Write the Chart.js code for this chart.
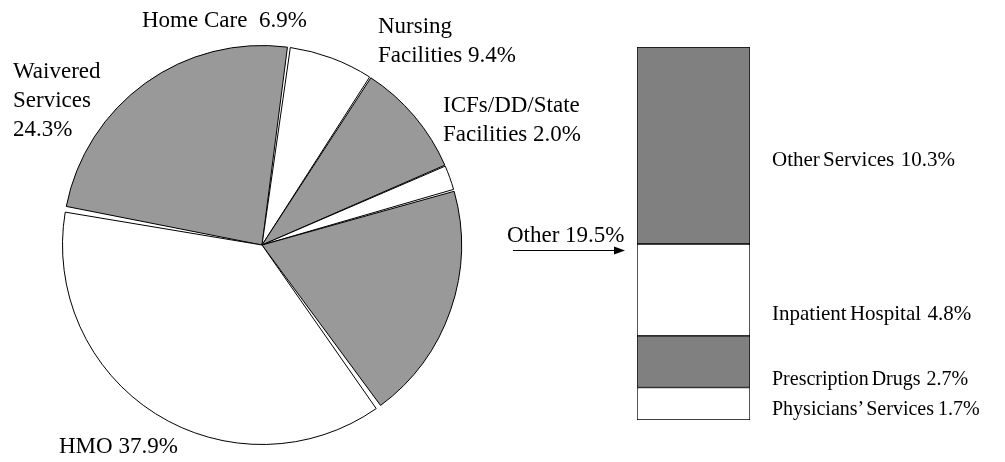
<!DOCTYPE html>
<html>
<head>
<meta charset="utf-8">
<script src="https://cdn.jsdelivr.net/npm/chart.js@4"></script>
<style>
  html, body { margin: 0; padding: 0; background: #fff; }
  #wrap { position: relative; width: 1005px; height: 462px; }
  #pieCanvas { position: absolute; left: 0; top: 0; }
  #barBox { position: absolute; left: 636px; top: 46px; width: 115px; height: 375px; }
</style>
</head>
<body>
<div id="wrap">
  <canvas id="pieCanvas" width="1005" height="462"></canvas>
  <div id="barBox"><canvas id="barCanvas"></canvas></div>
</div>
<script>
// pie data (clockwise, starting from Waivered Services)
const pieLabels = ['Waivered Services', 'Home Care', 'Nursing Facilities', 'ICFs/DD/State Facilities', 'Other', 'HMO'];
const pieValues = [24.3, 6.9, 9.4, 2.0, 19.5, 37.9];
const pieColors = ['#999999', '#ffffff', '#999999', '#ffffff', '#999999', '#ffffff'];

// breakdown of "Other" (bottom to top)
const otherLabels = ["Physicians’ Services", 'Prescription Drugs', 'Inpatient Hospital', 'Other Services'];
const otherValues = [1.7, 2.7, 4.8, 10.3];
const otherColors = ['#ffffff', '#808080', '#ffffff', '#808080'];

const SERIF = '"Liberation Serif", "Times New Roman", serif';

// text labels drawn on top of the pie canvas
const textLabels = [
  { lines: ['Waivered', 'Services', '24.3%'], x: 13, y: 72, size: 23 },
  { lines: ['Home Care  6.9%'], x: 142, y: 21, size: 23 },
  { lines: ['Nursing', 'Facilities 9.4%'], x: 378, y: 27, size: 23 },
  { lines: ['ICFs/DD/State', 'Facilities 2.0%'], x: 443, y: 106, size: 23 },
  { lines: ['HMO 37.9%'], x: 59, y: 447, size: 23 },
  { lines: ['Other 19.5%'], x: 507, y: 236, size: 23 },
  { lines: ['Other Services  10.3%'], x: 772, y: 160, size: 21, ws: -2 },
  { lines: ['Inpatient Hospital  4.8%'], x: 772, y: 314, size: 21, ws: -2 },
  { lines: ['Prescription Drugs  2.7%'], x: 772, y: 380, size: 20, ws: -2 },
  { lines: ['Physicians’ Services  1.7%'], x: 772, y: 410, size: 20, ws: -3 }
];

const labelPlugin = {
  id: 'labels',
  afterDraw(chart) {
    const ctx = chart.ctx;
    ctx.save();
    ctx.fillStyle = '#000';
    ctx.textBaseline = 'middle';
    ctx.textAlign = 'left';
    textLabels.forEach(l => {
      ctx.font = l.size + 'px ' + SERIF;
      ctx.wordSpacing = (l.ws || 0) + 'px';
      l.lines.forEach((t, i) => ctx.fillText(t, l.x, l.y + i * 29));
    });
    ctx.wordSpacing = '0px';
    // arrow to the bar
    ctx.strokeStyle = '#000';
    ctx.lineWidth = 1;
    ctx.beginPath();
    ctx.moveTo(513, 250.5);
    ctx.lineTo(616, 250.5);
    ctx.stroke();
    ctx.beginPath();
    ctx.moveTo(625, 250.5);
    ctx.lineTo(614, 246.5);
    ctx.lineTo(614, 254.5);
    ctx.closePath();
    ctx.fill();
    ctx.restore();
  }
};

new Chart(document.getElementById('pieCanvas'), {
  type: 'pie',
  data: {
    labels: pieLabels,
    datasets: [{
      data: pieValues,
      backgroundColor: pieColors,
      borderColor: '#000',
      borderWidth: 1,
      spacing: 3
    }]
  },
  options: {
    responsive: false,
    animation: false,
    rotation: -79.5,
    layout: { padding: { left: 62, right: 543, top: 45, bottom: 17 } },
    plugins: { legend: { display: false }, tooltip: { enabled: false } }
  },
  plugins: [labelPlugin]
});

new Chart(document.getElementById('barCanvas'), {
  type: 'bar',
  data: {
    labels: ['Other'],
    datasets: otherValues.map((v, i) => ({
      label: otherLabels[i],
      data: [v],
      backgroundColor: otherColors[i],
      borderColor: '#000',
      borderWidth: 1,
      borderSkipped: false,
      barPercentage: 1,
      categoryPercentage: 1
    }))
  },
  options: {
    responsive: true,
    maintainAspectRatio: false,
    animation: false,
    layout: { padding: 1 },
    scales: {
      x: { stacked: true, display: false },
      y: { stacked: true, display: false, min: 0, max: 19.5 }
    },
    plugins: { legend: { display: false }, tooltip: { enabled: false } }
  }
});
</script>
</body>
</html>
